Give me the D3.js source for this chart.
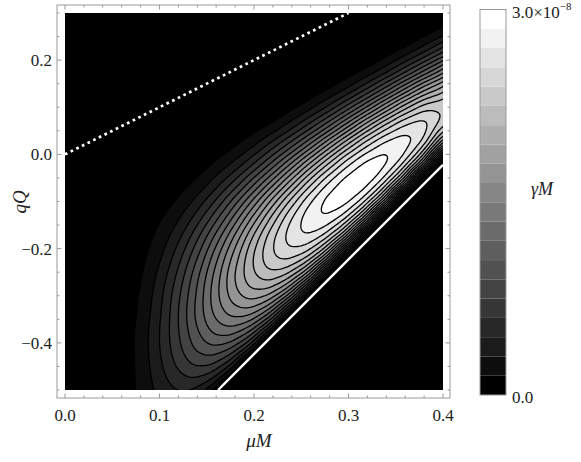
<!DOCTYPE html>
<html><head><meta charset="utf-8">
<script src="https://cdn.jsdelivr.net/npm/d3@7"></script>
<style>body{margin:0;background:#fff}</style>
</head><body>
<svg id="c" width="581" height="462"></svg>
<script>
// ---- data ----
// μM sample positions (columns) and qQ sample positions (rows, top to bottom)
const muValues = [0,0.02,0.04,0.06,0.08,0.10,0.12,0.14,0.16,0.18,0.20,0.22,0.24,0.26,0.28,0.30,0.32,0.34,0.36,0.38,0.40];
const qQValues = [0.30,0.26,0.22,0.18,0.14,0.10,0.06,0.02,-0.02,-0.06,-0.10,-0.14,-0.18,-0.22,-0.26,-0.30,-0.34,-0.38,-0.42,-0.46,-0.50];
// γM in units of 1e-10 (negative = below superradiance threshold, drawn black)
const gammaM = [
 [0,0,0,0,0,0,0,0,0,0,0,0,0,0,0,0,0,0,0,0,3],
 [0,0,0,0,0,0,0,0,0,0,0,0,0,0,0,0,0,0,2,9,22],
 [0,0,0,0,0,0,0,0,0,0,0,0,0,0,0,0,2,8,21,42,70],
 [0,0,0,0,0,0,0,0,0,0,0,0,0,0,2,7,18,38,67,101,137],
 [0,0,0,0,0,0,0,0,0,0,0,0,1,6,15,33,60,95,134,172,200],
 [0,0,0,0,0,0,0,0,0,0,1,4,12,27,51,84,123,165,204,231,236],
 [0,0,0,0,0,0,0,0,1,3,9,20,40,69,106,149,193,231,256,258,226],
 [0,0,0,0,0,0,0,1,5,14,29,53,85,125,170,214,252,275,274,238,153],
 [0,0,0,0,0,1,2,7,18,35,61,96,138,184,228,266,288,284,245,158,9],
 [0,0,0,0,1,3,8,19,38,65,101,143,189,234,271,292,288,247,159,10,-99],
 [0,0,0,0,2,7,18,36,63,99,141,187,231,268,289,285,245,158,11,-99,-99],
 [0,0,0,1,5,14,30,55,89,130,175,219,256,278,275,238,154,12,-99,-99,-99],
 [0,0,0,2,8,21,43,74,113,156,200,237,260,260,226,148,12,-99,-99,-99,-99],
 [0,0,0,3,11,28,55,90,131,173,211,236,239,211,139,12,-99,-99,-99,-99,-99],
 [0,0,0,4,14,35,65,102,142,180,206,214,191,128,12,-99,-99,-99,-99,-99,-99],
 [0,0,0,5,17,40,72,108,145,173,185,169,115,12,-99,-99,-99,-99,-99,-99,-99],
 [0,0,1,5,19,43,75,109,138,153,145,101,11,-99,-99,-99,-99,-99,-99,-99,-99],
 [0,0,1,6,21,45,74,102,121,119,86,10,-99,-99,-99,-99,-99,-99,-99,-99,-99],
 [0,0,1,6,21,44,69,89,93,70,9,-99,-99,-99,-99,-99,-99,-99,-99,-99,-99],
 [0,0,1,6,20,40,59,68,55,7,-87,-99,-99,-99,-99,-99,-99,-99,-99,-99,-99],
 [0,0,1,6,19,34,45,40,6,-70,-99,-99,-99,-99,-99,-99,-99,-99,-99,-99,-99]
];
const gammaUnit = 1e-10;
const contourLevels = [1,2,3,4,5,6,7,8,9,10,11,12,13,14,15,16,17,18,19].map(k=>k*1.5e-9);
const colorbarMax = 3.0e-8;
const xTickVals=[0,0.1,0.2,0.3,0.4];
const yTickVals=[-0.4,-0.2,0,0.2];
const thresholdMu=[0.162,0.4], thresholdQ=[-0.5,-0.022];   // solid white line
const boundMu=[0,0.3], boundQ=[0,0.3];                     // dotted white line qQ = μM

// ---- smooth (Catmull-Rom) resampling of the sampled surface for drawing ----
const sub=10;
function cr(p0,p1,p2,p3,t){
  return 0.5*(2*p1+(-p0+p2)*t+(2*p0-5*p1+4*p2-p3)*t*t+(-p0+3*p1-3*p2+p3)*t*t*t);
}
function at(arr,i){const n=arr.length; if(i<0)return 2*arr[0]-arr[1]; if(i>=n)return 2*arr[n-1]-arr[n-2]; return arr[i];}
function resample1(arr){
  const out=[];
  for(let i=0;i<arr.length-1;i++) for(let s=0;s<sub;s++)
    out.push(cr(at(arr,i-1),arr[i],arr[i+1],at(arr,i+2),s/sub));
  out.push(arr[arr.length-1]);
  return out;
}
const rowsFine=gammaM.map(r=>resample1(r.map(v=>v*gammaUnit)));
const nx=rowsFine[0].length;
const colsFine=d3.range(nx).map(i=>resample1(rowsFine.map(r=>r[i])));
const ny=colsFine[0].length;
const field=new Array(nx*ny);
for(let j=0;j<ny;j++)for(let i=0;i<nx;i++) field[j*nx+i]=colsFine[i][j];

// ---- drawing ----
const svg=d3.select("#c");
const x=d3.scaleLinear([0,0.4],[65,443]);
const y=d3.scaleLinear([-0.5,0.3],[390,13]);
const muStep=(muValues[1]-muValues[0])/sub, qStep=(qQValues[0]-qQValues[1])/sub;
const proj=d3.geoTransform({point(gx,gy){
  this.stream.point(x(muValues[0]+(gx-0.5)*muStep), y(qQValues[0]-(gy-0.5)*qStep));
}});
const path=d3.geoPath(proj);
const nBands=contourLevels.length+1;
const gray=k=>{const g=Math.round(255*k/(nBands-1));return `rgb(${g},${g},${g})`;};

svg.append("clipPath").attr("id","clip").append("rect")
  .attr("x",x(0)).attr("y",y(0.3)).attr("width",x(0.4)-x(0)).attr("height",y(-0.5)-y(0.3));
const plot=svg.append("g").attr("clip-path","url(#clip)");
plot.append("rect").attr("x",x(0)).attr("y",y(0.3)).attr("width",x(0.4)-x(0)).attr("height",y(-0.5)-y(0.3)).attr("fill","#000");
const cs=d3.contours().size([nx,ny]).thresholds(contourLevels)(field);
plot.selectAll("path.band").data(cs).join("path").attr("class","band")
  .attr("d",path).attr("fill",(d,i)=>gray(i+1)).attr("stroke","none");
plot.selectAll("path.line").data(cs).join("path").attr("class","line")
  .attr("d",path).attr("fill","none").attr("stroke","#000").attr("stroke-width",1.3);
plot.append("line").attr("x1",x(thresholdMu[0])).attr("y1",y(thresholdQ[0]))
  .attr("x2",x(thresholdMu[1])).attr("y2",y(thresholdQ[1]))
  .attr("stroke","#fff").attr("stroke-width",2.4);
plot.append("line").attr("x1",x(boundMu[0])).attr("y1",y(boundQ[0]))
  .attr("x2",x(boundMu[1])).attr("y2",y(boundQ[1]))
  .attr("stroke","#fff").attr("stroke-width",2.7).attr("stroke-dasharray","2.7,3.6");

// frame and ticks
const fr={x0:57,y0:5,x1:450,y1:398};
svg.append("rect").attr("x",fr.x0).attr("y",fr.y0).attr("width",fr.x1-fr.x0).attr("height",fr.y1-fr.y0)
  .attr("fill","none").attr("stroke","#999").attr("stroke-width",1);
const ax=svg.append("g").attr("stroke","#999").attr("stroke-width",1);
d3.range(0,0.4001,0.02).forEach(v=>{
  const major=Math.abs(v*10-Math.round(v*10))<1e-6, L=major?4.5:2.5, px=x(v);
  ax.append("line").attr("x1",px).attr("x2",px).attr("y1",fr.y1).attr("y2",fr.y1-L);
  ax.append("line").attr("x1",px).attr("x2",px).attr("y1",fr.y0).attr("y2",fr.y0+L);
});
d3.range(-0.5,0.3001,0.05).forEach(v=>{
  const major=Math.abs(v*5-Math.round(v*5))<1e-6, L=major?4.5:2.5, py=y(v);
  ax.append("line").attr("y1",py).attr("y2",py).attr("x1",fr.x0).attr("x2",fr.x0+L);
  ax.append("line").attr("y1",py).attr("y2",py).attr("x1",fr.x1).attr("x2",fr.x1-L);
});
const fmt=v=>d3.format(".1f")(v).replace("-","\u2212");
const lab=svg.append("g").attr("font-family","'Liberation Serif',serif").attr("font-size",17).attr("fill","#222");
xTickVals.forEach(v=>lab.append("text").attr("x",x(v)).attr("y",421).attr("text-anchor","middle").text(fmt(v)));
yTickVals.forEach(v=>lab.append("text").attr("x",52).attr("y",y(v)+6).attr("text-anchor","end").text(fmt(v)));
lab.append("text").attr("x",259).attr("y",447).attr("text-anchor","middle").attr("font-size",19)
  .attr("font-style","italic").text("μM");
lab.append("text").attr("transform","translate(26,202) rotate(-90)").attr("text-anchor","middle").attr("font-size",19)
  .attr("font-style","italic").text("qQ");

// colorbar
const cb={x:480,w:26,y0:9.5,y1:395};
const cy=d3.scaleLinear([0,colorbarMax],[cb.y1,cb.y0]);
const bandEdges=[0,...contourLevels,colorbarMax];
d3.range(nBands).forEach(k=>svg.append("rect").attr("x",cb.x).attr("width",cb.w)
  .attr("y",cy(bandEdges[k+1])).attr("height",cy(bandEdges[k])-cy(bandEdges[k+1])).attr("fill",gray(k)));
svg.append("rect").attr("x",cb.x).attr("y",cb.y0).attr("width",cb.w).attr("height",cb.y1-cb.y0)
  .attr("fill","none").attr("stroke","#999");
lab.append("text").attr("x",512).attr("y",403).text("0.0");
const t=lab.append("text").attr("x",512).attr("y",18);
t.append("tspan").text("3.0×10");
t.append("tspan").attr("dy",-8).attr("font-size",11).text("\u22128");
lab.append("text").attr("x",531).attr("y",195).attr("font-size",18).attr("font-style","italic").text("γM");
</script></body></html>
